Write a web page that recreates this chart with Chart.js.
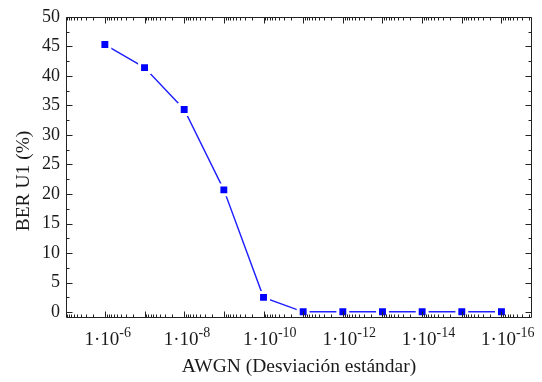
<!DOCTYPE html>
<html>
<head>
<meta charset="utf-8">
<script src="https://cdn.jsdelivr.net/npm/chart.js@4.4.1/dist/chart.umd.min.js"></script>
<style>
  body { margin: 0; background: #fff; }
  #wrap { width: 542px; height: 382px; }
</style>
</head>
<body>
<div id="wrap"><canvas id="berChart" width="542" height="382"></canvas></div>
<script>
// AWGN std deviation as 1·10^-n, stored as n
const awgnExponents = [6, 7, 8, 9, 10, 11, 12, 13, 14, 15, 16];
const berU1 = [45.3, 41.4, 34.3, 20.7, 2.5, 0.05, 0.05, 0.05, 0.05, 0.05, 0.05];
const xLabelExponents = [6, 8, 10, 12, 14, 16];
const yTickValues = [0, 5, 10, 15, 20, 25, 30, 35, 40, 45, 50];

const serif = "'Liberation Serif', 'Times New Roman', serif";
const textColor = "#1a1a1a";

// frame with inward ticks on all sides, x labels with superscript, y title
const frameTicks = {
  id: "frameTicks",
  afterDatasetsDraw(chart) {
    const ctx = chart.ctx;
    const { left, right, top, bottom } = chart.chartArea;
    const xs = chart.scales.x, ys = chart.scales.y;
    ctx.save();
    ctx.strokeStyle = "#222";
    ctx.lineWidth = 1;
    const L = Math.round(left) + 0.5, R = Math.round(right) - 0.5;
    const T = Math.round(top) + 0.5, B = Math.round(bottom) - 0.5;
    ctx.beginPath();
    ctx.rect(L, T, R - L, B - T);
    ctx.stroke();

    const vtick = (px, len) => {
      const x = Math.round(px) + 0.5;
      ctx.moveTo(x, B); ctx.lineTo(x, B - len);
      ctx.moveTo(x, T); ctx.lineTo(x, T + len);
    };
    const htick = (py, len) => {
      const y = Math.round(py) + 0.5;
      ctx.moveTo(L, y); ctx.lineTo(L + len, y);
      ctx.moveTo(R, y); ctx.lineTo(R - len, y);
    };
    ctx.beginPath();
    for (let k = Math.ceil(xs.min); k <= Math.floor(xs.max); k++) {
      vtick(xs.getPixelForValue(k), 6);
    }
    for (let k = Math.floor(xs.min); k <= Math.ceil(xs.max); k++) {
      for (let m = 2; m <= 9; m++) {
        const v = k + 1 - Math.log10(m);
        if (v > xs.min && v < xs.max) vtick(xs.getPixelForValue(v), 3);
      }
    }
    yTickValues.forEach(v => htick(ys.getPixelForValue(v), 6));
    for (let v = 2.5; v < 50; v += 5) htick(ys.getPixelForValue(v), 3);
    ctx.stroke();

    ctx.fillStyle = textColor;
    ctx.textBaseline = "alphabetic";
    ctx.textAlign = "left";
    const baseFont = "19px " + serif, supFont = "14px " + serif;
    xLabelExponents.forEach(e => {
      const base = "1\u00b710", sup = "-" + e;
      ctx.font = baseFont;
      const wb = ctx.measureText(base).width;
      const x0 = xs.getPixelForValue(e) - wb / 2 - 3;
      ctx.fillText(base, x0, 345);
      ctx.font = supFont;
      ctx.fillText(sup, x0 + wb, 337);
    });

    ctx.translate(24, 181);
    ctx.rotate(-Math.PI / 2);
    ctx.textAlign = "center";
    ctx.textBaseline = "middle";
    ctx.font = "19.5px " + serif;
    ctx.fillText("BER U1 (%)", 0, 0);
    ctx.restore();
  }
};

new Chart(document.getElementById("berChart"), {
  type: "line",
  data: {
    datasets: [{
      label: "BER U1",
      data: awgnExponents.map((e, i) => ({ x: e, y: berU1[i] })),
      borderColor: "#1f1fff",
      borderWidth: 1.4,
      pointStyle: "rect",
      pointRadius: 7,
      pointBackgroundColor: "#0000ff",
      pointBorderColor: "#ffffff",
      pointBorderWidth: 3,
      tension: 0
    }]
  },
  options: {
    responsive: false,
    animation: false,
    layout: { padding: { top: 14, right: 4, left: 0, bottom: 0 } },
    plugins: { legend: { display: false }, tooltip: { enabled: false } },
    scales: {
      x: {
        type: "linear",
        min: 5.02,
        max: 16.77,
        grid: { display: false, drawTicks: false },
        border: { display: false },
        ticks: { display: false },
        title: {
          display: true,
          text: "AWGN (Desviación estándar)",
          color: textColor,
          font: { family: serif, size: 19.5 },
          padding: { top: 0, bottom: 3 }
        },
        afterFit: s => { s.height = 64; }
      },
      y: {
        min: -1,
        max: 50,
        grid: { display: false, drawTicks: false },
        border: { display: false },
        afterBuildTicks: s => { s.ticks = yTickValues.map(v => ({ value: v })); },
        ticks: {
          color: textColor,
          padding: 6,
          font: { family: serif, size: 18 }
        },
        afterFit: s => { s.width = 66; }
      }
    }
  },
  plugins: [frameTicks]
});
</script>
</body>
</html>
